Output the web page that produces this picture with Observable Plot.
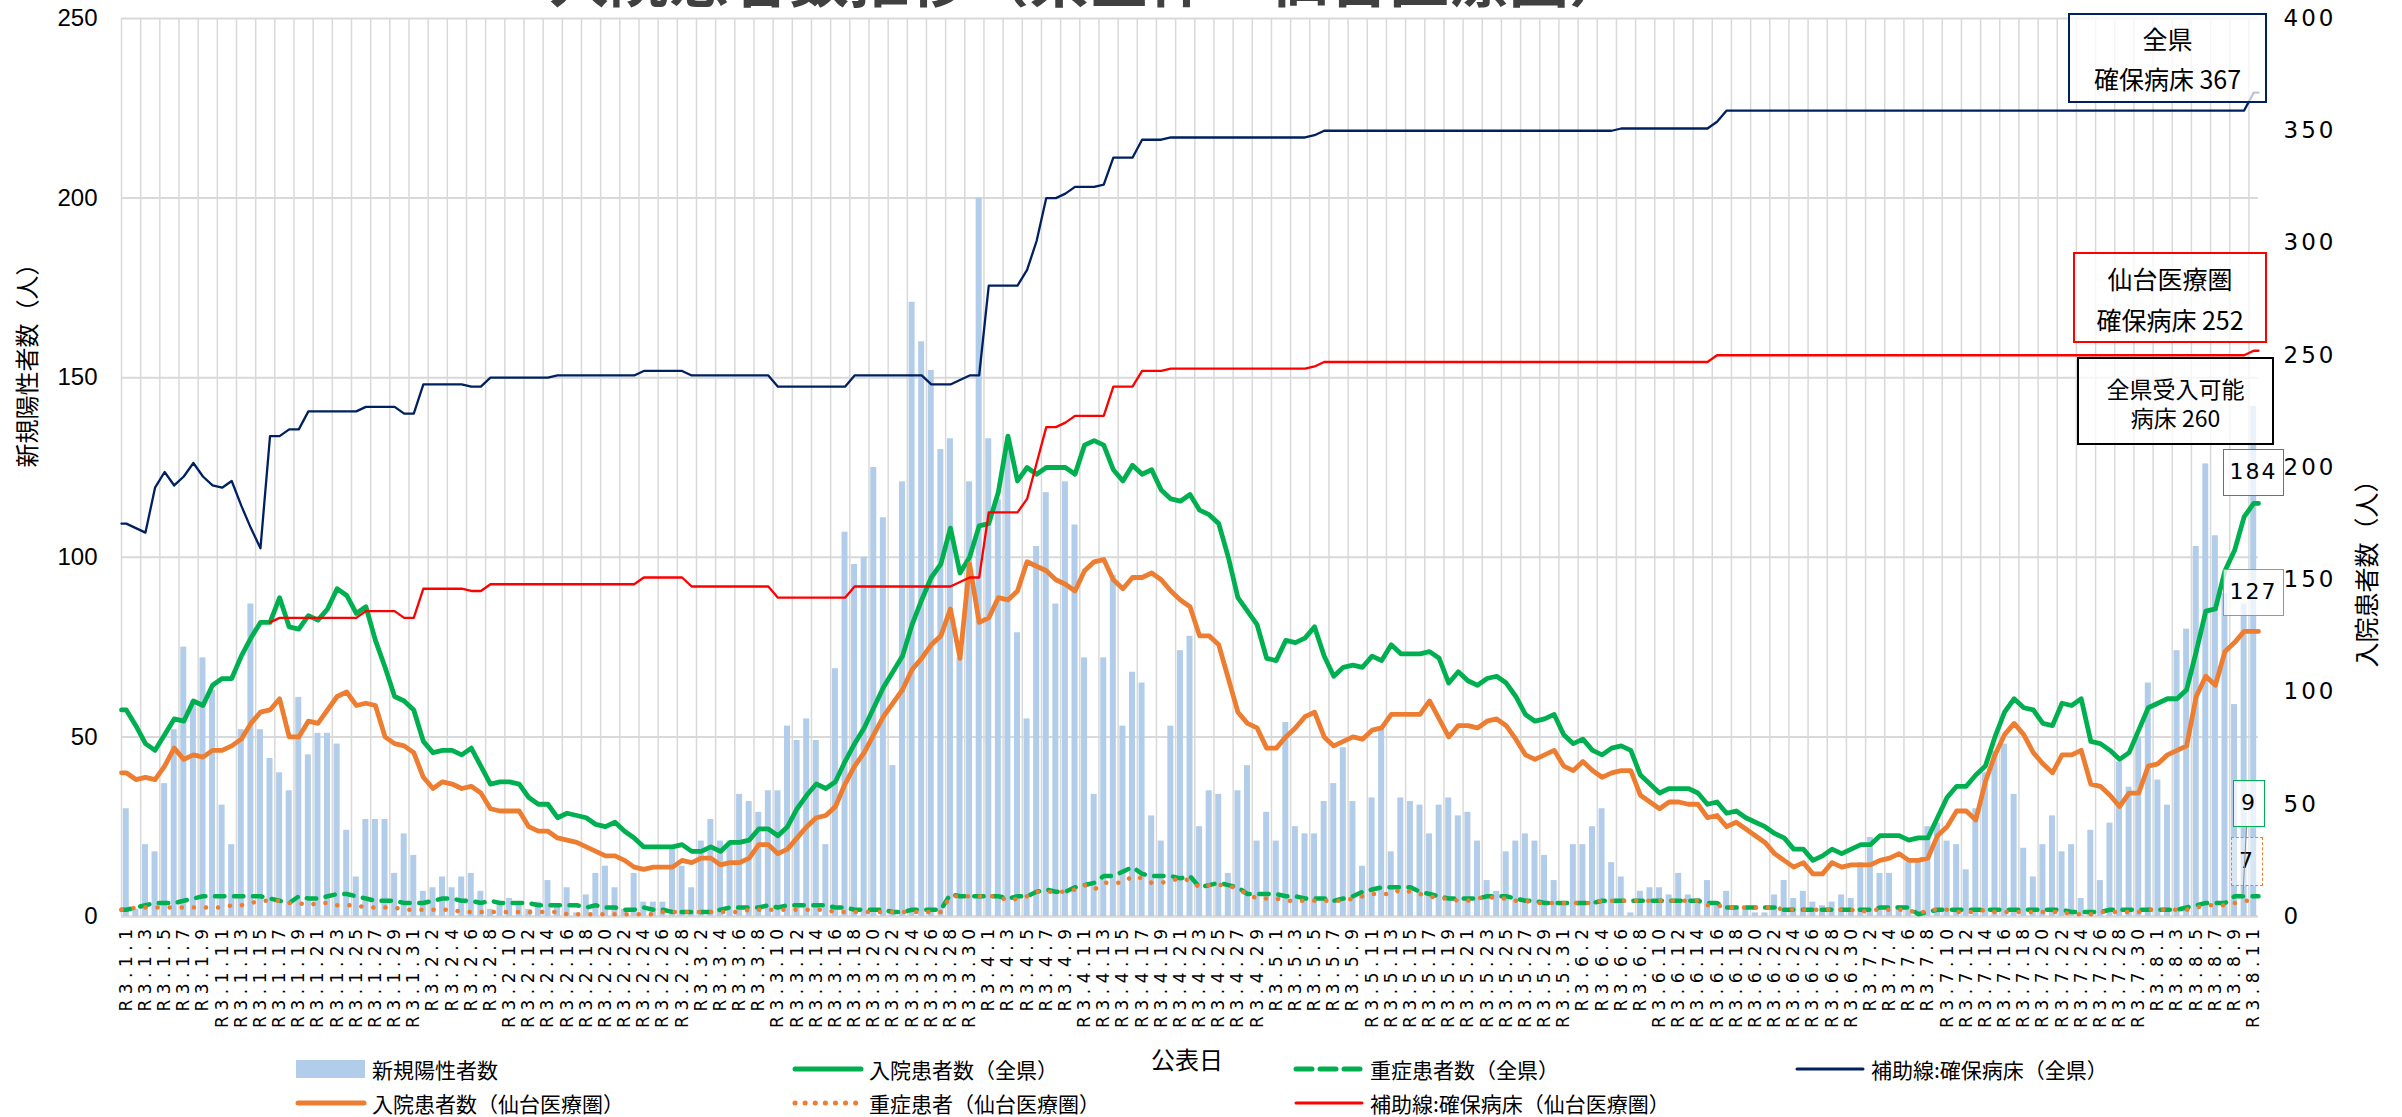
<!DOCTYPE html>
<html><head><meta charset="utf-8">
<script src="https://cdn.jsdelivr.net/npm/d3@7"></script>
<script src="https://cdn.jsdelivr.net/npm/@observablehq/plot@0.6"></script>
<style>
html,body{margin:0;padding:0;background:#fff;}
#wrap{position:relative;width:2402px;height:1117px;overflow:hidden;background:#fff;font-family:'Noto Sans CJK JP',sans-serif;}
#wrap > svg{position:absolute;left:0;top:0;}
#title{position:absolute;left:549px;top:-54px;font-size:60px;line-height:60px;font-weight:bold;color:#404040;white-space:nowrap;z-index:3;}
.box{position:absolute;box-sizing:border-box;background:rgba(255,255,255,0.75);text-align:center;color:#000;z-index:2;white-space:nowrap;}
.num{font-family:'DejaVu Sans',sans-serif;font-size:22px;letter-spacing:2px;}
.ln{display:block;overflow:visible;}
</style></head><body><div id="wrap"></div><script>
// ---- data ----
const titleText = "入院患者数推移（県全体・仙台医療圏）";
const dates = d3.utcDays(new Date(Date.UTC(2021,0,1)), new Date(Date.UTC(2021,7,12)));
const dateLabels = dates.map(d => `R3.${d.getUTCMonth()+1}.${d.getUTCDate()}`);
const leftTicks = [0,50,100,150,200,250];
const rightTicks = [0,50,100,150,200,250,300,350,400];
const acceptableBeds = 260;

const newCases = [30,2,20,18,37,52,75,60,72,63,
31,20,52,87,52,44,40,35,61,45,
51,51,48,24,11,27,27,27,12,23,
17,7,8,11,8,11,12,7,2,4,
5,3,2,4,10,3,8,1,6,12,
14,8,2,12,4,4,4,19,14,8,
21,27,21,21,34,32,29,35,35,53,
49,55,49,20,69,107,98,100,125,111,
42,121,171,160,152,130,133,72,121,200,
133,116,131,79,55,103,118,87,121,109,
72,34,72,95,53,68,65,28,21,53,
74,78,25,35,34,12,35,42,21,29,
21,54,25,23,23,32,37,47,32,14,
33,52,18,33,32,31,23,31,33,28,
29,21,10,7,18,21,23,21,17,10,
3,20,20,25,30,15,11,1,7,8,
8,6,12,6,5,10,3,7,3,2,
1,1,6,10,5,7,4,3,4,6,
5,15,22,12,12,3,15,15,25,26,
21,20,13,30,40,46,48,34,19,11,
20,28,18,20,5,24,10,26,43,36,
50,65,38,31,74,80,103,126,106,90,
59,87,142];

const hospAll = [92,85,77,74,81,88,87,96,94,103,
106,106,116,124,131,131,142,129,128,134,
132,137,146,143,135,138,123,111,98,96,
92,78,73,74,74,72,75,67,59,60,
60,59,53,50,50,44,46,45,44,41,
40,42,38,35,31,31,31,31,32,29,
29,31,29,33,33,34,39,39,36,40,
48,54,59,57,60,69,77,84,93,102,
109,116,130,141,151,157,173,153,160,174,
175,189,214,194,200,197,200,200,200,197,
210,212,210,199,194,201,197,199,190,186,
185,188,181,179,175,160,142,136,130,115,
114,123,122,124,129,116,107,111,112,111,
116,114,121,117,117,117,118,115,104,109,
105,103,106,107,104,98,90,87,88,90,
81,77,79,74,72,75,76,74,63,59,
55,57,57,57,55,50,51,46,47,44,
42,40,37,35,30,30,25,27,30,28,
30,32,32,36,36,36,34,35,35,44,
53,58,58,63,67,80,91,97,93,92,
86,85,95,94,97,78,77,74,70,73,
83,93,95,97,97,101,118,136,137,154,
163,178,184];

const hospSendai = [64,61,62,61,67,75,70,72,71,74,
74,76,79,86,91,92,97,80,80,87,
86,92,98,100,94,95,94,80,77,76,
73,62,57,60,59,57,58,55,48,47,
47,47,40,38,38,35,34,33,31,29,
27,27,25,22,21,22,22,22,25,24,
26,26,23,24,24,26,32,32,28,30,
35,40,44,45,49,59,67,73,81,89,
95,101,110,115,121,125,137,115,157,131,
133,142,141,145,158,156,154,150,148,145,
154,158,159,150,146,151,151,153,150,145,
141,138,125,125,121,106,91,86,84,75,
75,80,84,89,91,80,76,78,80,79,
83,84,90,90,90,90,96,88,80,85,
85,84,87,88,85,79,72,70,72,74,
67,65,69,65,62,64,65,65,54,51,
48,51,51,50,50,44,45,40,42,39,
36,33,28,25,22,24,19,19,24,22,
23,23,23,25,26,28,25,25,26,36,
40,47,47,43,60,72,81,86,81,73,
68,64,72,72,74,59,58,54,49,55,
55,67,68,72,74,76,98,107,103,118,
122,127,127];

const severeAll = [3,4,5,6,6,6,7,8,9,9,
9,9,9,9,9,8,7,6,9,8,
8,9,10,10,9,8,7,7,7,6,
6,6,7,8,8,7,7,6,7,6,
6,6,6,5,5,5,5,5,4,5,
4,4,3,3,4,3,3,2,2,2,
2,2,3,4,4,4,4,5,4,5,
5,5,5,5,4,4,3,3,3,3,
2,2,3,3,3,3,10,9,9,9,
9,9,8,9,9,11,12,11,11,13,
14,15,18,18,20,22,19,18,18,18,
17,18,13,14,15,14,13,10,10,10,
10,9,9,8,8,8,7,8,9,11,
12,13,13,13,13,11,10,9,8,8,
8,8,9,9,9,8,7,7,6,6,
6,6,6,6,7,7,7,7,7,7,
7,7,7,7,7,6,6,4,4,4,
4,4,4,3,3,3,3,3,3,3,
3,3,3,4,4,4,4,1,2,3,
3,3,3,3,3,3,3,3,3,3,
3,3,3,2,2,2,2,3,3,3,
3,3,3,3,3,4,5,6,6,6,
9,9,9];

const severeSendai = [3,4,4,4,4,4,4,4,4,4,
4,5,5,6,7,7,7,6,6,5,
6,6,5,5,5,4,4,4,4,3,
3,3,3,3,3,2,2,2,2,2,
2,2,2,2,2,2,1,1,1,1,
1,1,1,1,1,1,2,2,2,2,
2,2,2,2,2,3,3,3,3,3,
3,3,3,3,2,2,2,2,2,2,
2,2,2,2,2,2,9,9,9,9,
9,9,7,8,9,11,11,11,11,12,
14,12,15,15,15,18,17,15,15,16,
17,16,13,14,14,14,12,10,8,8,
8,7,7,7,7,7,7,7,8,9,
10,10,10,12,11,10,9,8,8,7,
7,8,9,8,8,7,7,6,6,6,
6,6,6,6,7,7,7,7,7,7,
7,7,7,7,7,5,5,4,4,4,
4,4,4,3,3,3,3,3,3,3,
3,2,3,3,3,3,3,1,3,3,
3,2,2,2,3,2,2,2,2,2,
2,2,2,1,1,1,2,2,2,2,
2,3,3,3,3,3,4,5,5,5,
6,7,7];

const bedsAll = [175,173,171,191,198,192,196,202,196,192,
191,194,183,173,164,214,214,217,217,225,
225,225,225,225,225,227,227,227,227,224,
224,237,237,237,237,237,236,236,240,240,
240,240,240,240,240,241,241,241,241,241,
241,241,241,241,243,243,243,243,243,241,
241,241,241,241,241,241,241,241,236,236,
236,236,236,236,236,236,241,241,241,241,
241,241,241,241,237,237,237,239,241,241,
281,281,281,281,288,301,320,320,322,325,
325,325,326,338,338,338,346,346,346,347,
347,347,347,347,347,347,347,347,347,347,
347,347,347,347,348,350,350,350,350,350,
350,350,350,350,350,350,350,350,350,350,
350,350,350,350,350,350,350,350,350,350,
350,350,350,350,350,350,351,351,351,351,
351,351,351,351,351,351,354,359,359,359,
359,359,359,359,359,359,359,359,359,359,
359,359,359,359,359,359,359,359,359,359,
359,359,359,359,359,359,359,359,359,359,
359,359,359,359,359,359,359,359,359,359,
359,359,359,359,359,359,359,359,359,359,
359,359,367];

const bedsSendai = [null,null,null,null,null,null,null,null,null,null,
null,null,null,null,null,131,133,133,133,133,
133,133,133,133,133,136,136,136,136,133,
133,146,146,146,146,146,145,145,148,148,
148,148,148,148,148,148,148,148,148,148,
148,148,148,148,151,151,151,151,151,147,
147,147,147,147,147,147,147,147,142,142,
142,142,142,142,142,142,147,147,147,147,
147,147,147,147,147,147,147,149,151,151,
180,180,180,180,186,202,218,218,220,223,
223,223,223,236,236,236,243,243,243,244,
244,244,244,244,244,244,244,244,244,244,
244,244,244,244,245,247,247,247,247,247,
247,247,247,247,247,247,247,247,247,247,
247,247,247,247,247,247,247,247,247,247,
247,247,247,247,247,247,247,247,247,247,
247,247,247,247,247,247,250,250,250,250,
250,250,250,250,250,250,250,250,250,250,
250,250,250,250,250,250,250,250,250,250,
250,250,250,250,250,250,250,250,250,250,
250,250,250,250,250,250,250,250,250,250,
250,250,250,250,250,250,250,250,250,250,
250,250,252];

// ---- colours ----
const C = {bar:"#b1cde9", green:"#00b050", orange:"#ed7d31", navy:"#002060", red:"#ff0000", grid:"#d9d9d9"};
const RATIO = 400/250;
const N = dateLabels.length;

const barData = newCases.map((v,i) => ({i, v}));
function linePts(values){
  const pts = [];
  values.forEach((v,i) => { if (v != null) pts.push({x: i + 0.5, y: v / RATIO}); });
  if (values[0] != null) pts.unshift({x: 0, y: values[0] / RATIO});
  const last = values[values.length - 1];
  if (last != null) pts.push({x: values.length, y: last / RATIO});
  return pts;
}
const tickIdx = dateLabels.map((_, i) => i).filter(i => i % 2 === 0);
const gridIdx = d3.range(0, N, 2);

const chart = Plot.plot({
  width: 2402, height: 1040,
  marginLeft: 121, marginRight: 144, marginTop: 18, marginBottom: 124,
  x: {type: "linear", domain: [0, N], axis: null},
  y: {domain: [0, 250], axis: null},
  style: {background: "transparent", fontFamily: "'Noto Sans CJK JP', sans-serif", color: "#000"},
  marks: [
    Plot.gridX(gridIdx, {stroke: C.grid, strokeOpacity: 1, strokeWidth: 1.5}),
    Plot.gridY(leftTicks.slice(1), {stroke: C.grid, strokeOpacity: 1, strokeWidth: 2}),
    Plot.ruleY([0], {stroke: C.grid, strokeWidth: 2.5}),
    Plot.rect(barData, {x1: "i", x2: d => d.i + 1, y1: 0, y2: "v", fill: C.bar, insetLeft: 1.8, insetRight: 1.8}),
    Plot.line(linePts(hospAll), {x: "x", y: "y", stroke: C.green, strokeWidth: 4.8, strokeLinejoin: "round", strokeLinecap: "round"}),
    Plot.line(linePts(severeAll), {x: "x", y: "y", stroke: C.green, strokeWidth: 4.5, strokeLinejoin: "round", strokeLinecap: "round", strokeDasharray: "9.5,9.5"}),
    Plot.line(linePts(bedsAll), {x: "x", y: "y", stroke: C.navy, strokeWidth: 2.3, strokeLinejoin: "round"}),
    Plot.line(linePts(hospSendai), {x: "x", y: "y", stroke: C.orange, strokeWidth: 4.8, strokeLinejoin: "round", strokeLinecap: "round"}),
    Plot.line(linePts(severeSendai), {x: "x", y: "y", stroke: C.orange, strokeWidth: 4.5, strokeLinecap: "round", strokeDasharray: "0.1,12"}),
    Plot.line(linePts(bedsSendai), {x: "x", y: "y", stroke: C.red, strokeWidth: 2.3, strokeLinejoin: "round"}),
    Plot.axisX(tickIdx.map(i => i + 0.5), {tickFormat: v => dateLabels[Math.round(v - 0.5)], tickRotate: -90, tickSize: 0, tickPadding: 7, fontSize: 17, fontFamily: "DejaVu Sans", fill: "#000", label: null}),
    Plot.axisY(leftTicks, {anchor: "left", tickSize: 0, tickPadding: 24, fontSize: 24, fontFamily: "Liberation Sans", fill: "#000", label: null}),
    Plot.axisY(rightTicks.map(t => t / RATIO), {anchor: "right", tickFormat: v => String(Math.round(v * RATIO)), tickSize: 0, tickPadding: 25, fontSize: 23, fontFamily: "DejaVu Sans", fill: "#000", label: null}),
    Plot.text(["新規陽性者数（人）"], {text: d => d, frameAnchor: "left", rotate: -90, dx: -93, fontSize: 24, fill: "#000"}),
    Plot.text(["入院患者数（人）"], {text: d => d, frameAnchor: "right", rotate: -90, dx: 109, fontSize: 25, fill: "#000"})
  ]
});

chart.querySelectorAll('g[aria-label="x-axis tick label"] text').forEach(t => t.setAttribute("letter-spacing", "5.5"));
const yLabelGroups = chart.querySelectorAll('g[aria-label="y-axis tick label"]');
if (yLabelGroups.length > 1) yLabelGroups[1].querySelectorAll("text").forEach(t => t.setAttribute("letter-spacing", "3"));

const wrap = document.getElementById("wrap");
wrap.appendChild(chart);

const title = document.createElement("div");
title.id = "title"; title.textContent = titleText;
wrap.appendChild(title);

function addBox(left, top, w, h, border, html, extra){
  const b = document.createElement("div");
  b.className = "box";
  b.style.cssText += `left:${left}px;top:${top}px;width:${w}px;height:${h}px;border:${border};` + (extra || "");
  b.innerHTML = html;
  wrap.appendChild(b);
}
const last = a => a[a.length - 1];
addBox(2068, 13, 199, 90, "2px solid " + C.navy, `<div style="font-size:25px;line-height:40px;padding-top:3px">全県<br>確保病床 ${last(bedsAll)}</div>`);
addBox(2073, 252, 194, 91, "2px solid " + C.red, `<div style="font-size:25px;line-height:41px;padding-top:4px">仙台医療圏<br>確保病床 ${last(bedsSendai)}</div>`);
addBox(2077, 357, 197, 88, "2px solid #000",
  `<div style="font-size:23px;padding-top:15px"><span class="ln" style="height:29px;line-height:29px">全県受入可能</span><span class="ln" style="height:29px;line-height:29px">病床 ${acceptableBeds}</span></div>`);
addBox(2223, 449, 61, 47, "1.5px solid " + C.green, `<div class="num" style="line-height:44px">${last(hospAll)}</div>`);
addBox(2223, 569, 61, 47, "1.5px solid " + C.orange, `<div class="num" style="line-height:44px">${last(hospSendai)}</div>`);
addBox(2233, 780, 32, 47, "1.5px solid " + C.green, `<div class="num" style="line-height:44px">${last(severeAll)}</div>`);
addBox(2231, 837, 32, 49, "1.5px dashed " + C.orange, `<div class="num" style="line-height:46px">${last(severeSendai)}</div>`, "background:rgba(255,255,255,0.5);");
const leader = document.createElement("div");
leader.style.cssText = "position:absolute;left:2246px;top:827px;width:1px;height:68px;background:#8c8c8c;z-index:3;transform:rotate(3deg);transform-origin:top;";
wrap.appendChild(leader);

// ---- legend ----
const leg = d3.create("svg").attr("width", 2402).attr("height", 77)
  .style("position", "absolute").style("left", "0px").style("top", "1040px");
const items = [
  {x: 296, y: 29, type: "bar", label: "新規陽性者数"},
  {x: 793, y: 29, type: "line", color: C.green, w: 5, label: "入院患者数（全県）"},
  {x: 1294, y: 29, type: "dash", color: C.green, w: 5, label: "重症患者数（全県）"},
  {x: 1795, y: 29, type: "line", color: C.navy, w: 3, label: "補助線:確保病床（全県）"},
  {x: 296, y: 63, type: "line", color: C.orange, w: 5, label: "入院患者数（仙台医療圏）"},
  {x: 793, y: 63, type: "dot", color: C.orange, w: 5, label: "重症患者（仙台医療圏）"},
  {x: 1294, y: 63, type: "line", color: C.red, w: 3, label: "補助線:確保病床（仙台医療圏）"}
];
for (const it of items){
  if (it.type === "bar"){
    leg.append("rect").attr("x", it.x).attr("y", it.y - 9).attr("width", 69).attr("height", 18).attr("fill", C.bar);
  } else {
    const l = leg.append("line").attr("x1", it.x + 2).attr("x2", it.x + 68).attr("y1", it.y).attr("y2", it.y)
      .attr("stroke", it.color).attr("stroke-width", it.w).attr("stroke-linecap", "round");
    if (it.type === "dash") l.attr("stroke-dasharray", "16,8");
    if (it.type === "dot") l.attr("stroke-dasharray", "0.1,10");
  }
  leg.append("text").attr("x", it.x + 76).attr("y", it.y).attr("dominant-baseline", "central")
    .attr("font-size", 21).attr("font-family", "'Noto Sans CJK JP', sans-serif").attr("fill", "#000").text(it.label);
}
leg.append("text").attr("x", 1187).attr("y", 18).attr("text-anchor", "middle").attr("dominant-baseline", "central")
  .attr("font-size", 24).attr("font-family", "'Noto Sans CJK JP', sans-serif").attr("fill", "#000").text("公表日");
wrap.appendChild(leg.node());
</script></body></html>
